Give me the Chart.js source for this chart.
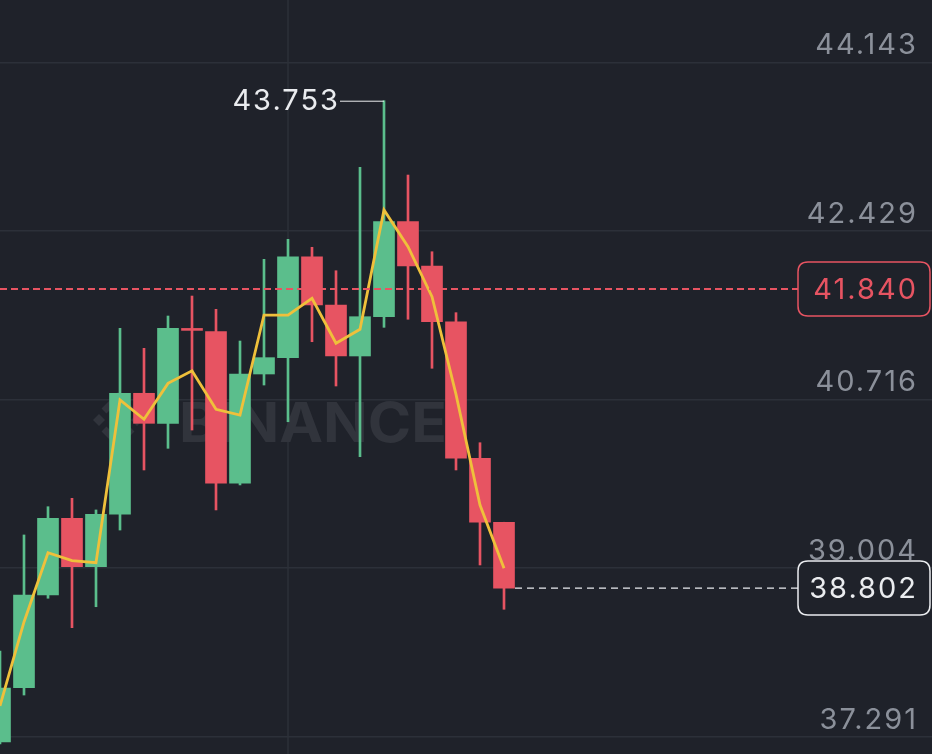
<!DOCTYPE html>
<html><head><meta charset="utf-8">
<script src="https://cdn.jsdelivr.net/npm/chart.js@4.4.1/dist/chart.umd.min.js"></script>
<style>html,body{margin:0;padding:0;background:#1F222A;overflow:hidden}#wrap{width:932px;height:754px}</style>
</head><body><div id="wrap"><canvas id="c" width="932" height="754"></canvas></div>
<script>
// ---- data ----
const candleIndex = [0,1,2,3,4,5,6,7,8,9,10,11,12,13,14,15,16,17,18,19,20,21];
const opens  = [37.239,37.791,38.732,39.511,39.020,39.552,40.781,40.476,41.440,41.407,39.867,40.977,41.143,42.168,41.678,41.160,41.559,42.524,42.074,41.508,40.121,39.471];
const highs  = [38.163,39.342,39.629,39.714,39.596,41.441,41.238,41.566,41.769,41.634,41.312,42.142,42.345,42.264,42.026,43.076,43.753,42.998,42.219,41.600,40.279,39.471];
const lows   = [37.220,37.716,38.699,38.400,38.613,39.392,40.002,40.222,40.408,39.596,39.850,40.865,40.492,41.305,40.855,40.137,41.451,41.533,41.035,40.002,39.037,38.587];
const closes = [37.787,38.732,39.511,39.020,39.552,40.781,40.476,41.441,41.420,39.867,40.977,41.143,42.168,41.678,41.160,41.559,42.524,42.074,41.508,40.121,39.471,38.802];
const maValues = [37.605,38.458,39.162,39.081,39.060,40.713,40.517,40.882,41.010,40.618,40.560,41.576,41.576,41.746,41.289,41.431,42.643,42.270,41.762,40.770,39.646,39.003];
const yTickValues = [37.291,39.004,40.716,42.429,44.143];
const verticalGridAt = [12];
const markPrice = 41.840;
const lastPrice = 38.802;
const highPrice = 43.753;
const highIndex = 16;

// ---- style ----
const BG = '#1F222A', GRID = '#2C3039', UP = '#5BBE8C', DOWN = '#E75462', MA = '#EFC03B', LABEL = '#8B909A', WHITE = '#EAECEF';
const FONT = 'Inter, "Noto Sans", sans-serif';
const colorOf = i => closes[i] >= opens[i] ? UP : DOWN;

const bodies = candleIndex.map((x,i)=>({x, y:[opens[i], closes[i]]}));
const wicks = candleIndex.map((x,i)=>({x, y:[lows[i], highs[i]]}));
const ma = candleIndex.map((x,i)=>({x, y:maValues[i]}));

function rr(ctx,x,y,w,h,r){ctx.beginPath();ctx.moveTo(x+r,y);ctx.lineTo(x+w-r,y);ctx.quadraticCurveTo(x+w,y,x+w,y+r);ctx.lineTo(x+w,y+h-r);ctx.quadraticCurveTo(x+w,y+h,x+w-r,y+h);ctx.lineTo(x+r,y+h);ctx.quadraticCurveTo(x,y+h,x,y+h-r);ctx.lineTo(x,y+r);ctx.quadraticCurveTo(x,y,x+r,y);ctx.closePath();}

const overlay = {
  id:'overlay',
  beforeDraw(chart){const c=chart.ctx;c.fillStyle=BG;c.fillRect(0,0,chart.width,chart.height);c.letterSpacing='2px';},
  beforeDatasetsDraw(chart){
    const c=chart.ctx, xs=chart.scales.x, area=chart.chartArea; c.save();
    // vertical time grid line(s)
    c.strokeStyle=GRID; c.lineWidth=1.5;
    verticalGridAt.forEach(v=>{const x=Math.round(xs.getPixelForValue(v));c.beginPath();c.moveTo(x,area.top);c.lineTo(x,area.bottom);c.stroke();});
    // watermark
    c.letterSpacing='0px';
    c.fillStyle='#31343C'; c.strokeStyle='#31343C';
    c.font='bold 55px '+FONT; c.textBaseline='alphabetic';
    const w=c.measureText('BINANCE').width;
    c.translate(179,442); c.scale(268/w,1); c.fillText('BINANCE',0,0);
    c.setTransform(1,0,0,1,0,0);
    c.translate(118,420); c.lineWidth=7; c.lineJoin='miter';
    const d=(x,y,r)=>{c.beginPath();c.moveTo(x,y-r);c.lineTo(x+r,y);c.lineTo(x,y+r);c.lineTo(x-r,y);c.closePath();c.fill();};
    d(0,0,7); d(-19,0,6); d(19,0,6);
    c.beginPath();c.moveTo(-14,-9);c.lineTo(0,-23);c.lineTo(14,-9);c.stroke();
    c.beginPath();c.moveTo(-14,9);c.lineTo(0,23);c.lineTo(14,9);c.stroke();
    c.restore();
  },
  afterDatasetsDraw(chart){
    const c=chart.ctx, xs=chart.scales.x, ys=chart.scales.y, area=chart.chartArea;
    const boxL=798, boxW=132, boxH=54;
    c.save();
    c.letterSpacing='2px';
    c.font='29px '+FONT; c.textBaseline='middle'; c.textAlign='right';
    let y=ys.getPixelForValue(markPrice);
    c.strokeStyle=DOWN; c.lineWidth=2; c.setLineDash([7,4]);
    c.beginPath(); c.moveTo(area.left,y); c.lineTo(boxL,y); c.stroke();
    c.setLineDash([]);
    rr(c,boxL,y-boxH/2,boxW,boxH,10); c.fillStyle=BG; c.fill(); c.lineWidth=1.5; c.stroke();
    c.fillStyle=DOWN; c.fillText(markPrice.toFixed(3),918,y+1);
    y=ys.getPixelForValue(lastPrice);
    const xl=xs.getPixelForValue(candleIndex[candleIndex.length-1])+11;
    c.strokeStyle=WHITE; c.lineWidth=1.3; c.setLineDash([7,5]);
    c.beginPath(); c.moveTo(xl,y); c.lineTo(boxL,y); c.stroke();
    c.setLineDash([]);
    rr(c,boxL,y-boxH/2,boxW,boxH,10); c.fillStyle=BG; c.fill(); c.lineWidth=1.5; c.stroke();
    c.fillStyle=WHITE; c.fillText(lastPrice.toFixed(3),918,y+1);
    y=ys.getPixelForValue(highPrice);
    const xh=xs.getPixelForValue(highIndex);
    c.strokeStyle=WHITE; c.lineWidth=1;
    c.beginPath(); c.moveTo(xh-44,y+0.5); c.lineTo(xh,y+0.5); c.stroke();
    c.fillStyle=WHITE; c.fillText(highPrice.toFixed(3),xh-44,y+1);
    c.restore();
  }
};

new Chart(document.getElementById('c'),{
  data:{datasets:[
    {type:'line',data:ma,borderColor:MA,borderWidth:2.8,pointRadius:0,tension:0,order:0},
    {type:'bar',data:wicks,backgroundColor:candleIndex.map(colorOf),barThickness:2,grouped:false,order:2},
    {type:'bar',data:bodies,backgroundColor:candleIndex.map(colorOf),barThickness:21,grouped:false,order:1,minBarLength:1}
  ]},
  options:{
    responsive:false, animation:false, events:[], devicePixelRatio:1,
    layout:{padding:0},
    plugins:{legend:{display:false},tooltip:{enabled:false}},
    scales:{
      x:{type:'linear',min:0,max:932/24,offset:false,
        afterBuildTicks:a=>{a.ticks=verticalGridAt.map(v=>({value:v}));},
        afterFit:a=>{a.height=0;a.paddingLeft=0;a.paddingRight=0;},
        ticks:{display:false},grid:{display:false},border:{display:false}},
      y:{type:'linear',position:'right',min:37.117,max:44.776,
        afterBuildTicks:a=>{a.ticks=yTickValues.map(v=>({value:v}));},
        afterFit:a=>{a.width=0;a.paddingTop=0;a.paddingBottom=0;},
        ticks:{mirror:true,padding:-14,labelOffset:-17,color:LABEL,autoSkip:false,font:{family:FONT,size:29},callback:v=>v.toFixed(3)},
        grid:{color:GRID,lineWidth:1.5,drawTicks:false},border:{display:false}}
    }
  },
  plugins:[overlay]
});
</script></body></html>
